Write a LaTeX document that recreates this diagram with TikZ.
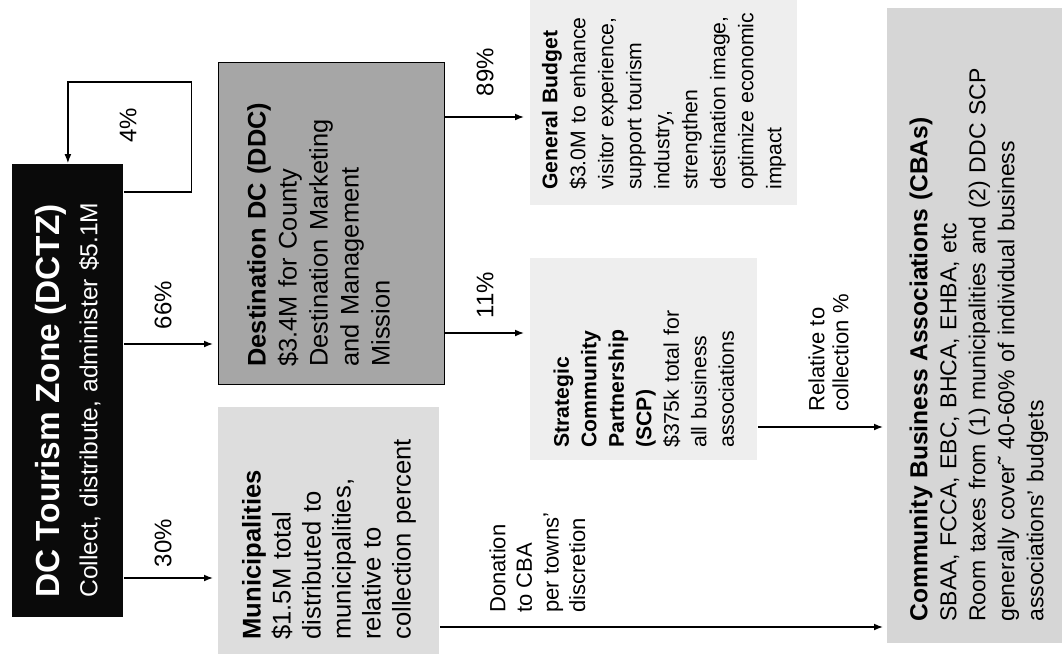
\documentclass[tikz,border=0pt]{standalone}
\usepackage{fontspec}
\setmainfont{Liberation Sans}
\usepackage{tikz}
\usetikzlibrary{arrows.meta, positioning, calc}
\definecolor{zoneblack}{HTML}{0A0A0A}
\definecolor{ddcgray}{HTML}{A6A6A6}
\definecolor{munigray}{HTML}{DDDDDD}
\definecolor{palegray}{HTML}{EEEEEE}
\definecolor{cbagray}{HTML}{D6D6D6}
\newcommand{\setfs}[2]{\fontsize{#1}{#2}\selectfont}
\tikzstyle{zonebox} = [rectangle, rotate=90, anchor=north west, align=left, inner ysep=0pt,
  fill=zoneblack, text=white]
\tikzstyle{ddcbox} = [rectangle, rotate=90, anchor=north west, align=left, inner ysep=0pt,
  fill=ddcgray, draw=black, line width=0.5pt, text=black]
\tikzstyle{lightbox} = [rectangle, rotate=90, anchor=north west, align=left, inner ysep=0pt,
  text=black]
\tikzstyle{arrow} = [-{Latex[length=4.5pt,width=3.4pt]}, line width=0.6pt]
\tikzstyle{pct} = [rotate=90, inner sep=0pt, font=\setfs{12pt}{14pt}]
\tikzstyle{flowlabel} = [rotate=90, anchor=north west, inner sep=0pt, align=left,
  font=\setfs{11pt}{13.3pt}]

\begin{document}
\begin{tikzpicture}[x=0.5pt, y=-0.5pt]
  \useasboundingbox (0,0) rectangle (1062,654);
  \clip (0,0) rectangle (1062,654);

  % Tourism zone
  \node (dctz) [zonebox, minimum width=226.5pt, minimum height=55.5pt, inner xsep=9.5pt,
    text width=207.5pt, font=\setfs{12.3pt}{19pt}] at (12,617)
    {{\setfs{16.7pt}{19pt}\bfseries DC Tourism Zone (DCTZ)}\\
     Collect, distribute, administer \$5.1M};

  % Destination DC
  \node (ddc) [ddcbox, minimum width=161pt, minimum height=113pt, inner xsep=9pt,
    text width=143pt, text depth=75pt, font=\setfs{12.7pt}{15.5pt}] at (218,385)
    {\textbf{Destination DC (DDC)}\\ \$3.4M for County\\ Destination Marketing\\
     and Management\\ Mission};

  % Municipalities
  \node (muni) [lightbox, fill=munigray, minimum width=123.5pt, minimum height=110.5pt,
    inner xsep=7pt, text width=109.5pt, font=\setfs{12.8pt}{15pt}] at (218,654)
    {\textbf{Municipalities}\\ \$1.5M total\\ distributed to\\ municipalities,\\
     relative to\\ collection percent};

  % General budget
  \node (gb) [lightbox, fill=palegray, minimum width=107.5pt, minimum height=133.5pt,
    inner xsep=7.5pt, text width=92.5pt, font=\setfs{10.6pt}{14pt}] at (530,205)
    {\textbf{General Budget}\\ \$3.0M to enhance\\ visitor experience,\\ support tourism\\
     industry,\\ strengthen\\ destination image,\\ optimize economic\\ impact};

  % Strategic community partnership
  \node (scp) [lightbox, fill=palegray, minimum width=101pt, minimum height=113.5pt,
    inner xsep=6pt, text width=89pt, font=\setfs{10.6pt}{13.75pt}] at (530,460)
    {\textbf{Strategic}\\ \textbf{Community}\\ \textbf{Partnership}\\ \textbf{(SCP)}\\
     \$375k total for\\ all business\\ associations};

  % Community business associations
  \node (cba) [lightbox, fill=cbagray, minimum width=317.5pt, minimum height=91.5pt,
    inner xsep=10.5pt, text width=296.5pt, font=\setfs{11.5pt}{14.5pt}] at (887,643)
    {{\setfs{12.3pt}{14.5pt}\bfseries Community Business Associations (CBAs)}\\
     SBAA, FCCA, EBC, BHCA, EHBA, etc\\
     Room taxes from (1) municipalities and (2) DDC SCP\\
     generally cover˜ 40-60\% of individual business\\
     associations’ budgets};

  % Percent labels
  \node (p4) [pct] at (128,125) {4\%};
  \node (p66) [pct] at (163,305) {66\%};
  \node (p30) [pct] at (163,543) {30\%};
  \node (p89) [pct] at (485,72) {89\%};
  \node (p11) [pct] at (485,295) {11\%};

  % Flow labels
  \node (donate) [flowlabel] at (489,613) {Donation\\ to CBA\\ per towns’\\ discretion};
  \node (relcol) [flowlabel, font=\setfs{11pt}{12pt}] at (808,412) {Relative to\\ collection \%};

  % Arrows
  \draw[arrow] (dctz.south |- 0,192) -- ++(68,0) -- ++(0,-110) -| (dctz.east);
  \draw[arrow, shorten >=2.5pt] (dctz.south |- 0,344) -- (ddc.north |- 0,344);
  \draw[arrow, shorten >=2.5pt] (dctz.south |- 0,578) -- (muni.north |- 0,578);
  \draw[arrow, shorten >=3pt] (ddc.south |- 0,117) -- (gb.north |- 0,117);
  \draw[arrow, shorten >=3pt] (ddc.south |- 0,333) -- (scp.north |- 0,333);
  \draw[arrow, shorten >=2pt] (scp.south |- 0,427) -- (cba.north |- 0,427);
  \draw[arrow, shorten >=2pt] (muni.south |- 0,627) -- (cba.north |- 0,627);
\end{tikzpicture}
\end{document}
